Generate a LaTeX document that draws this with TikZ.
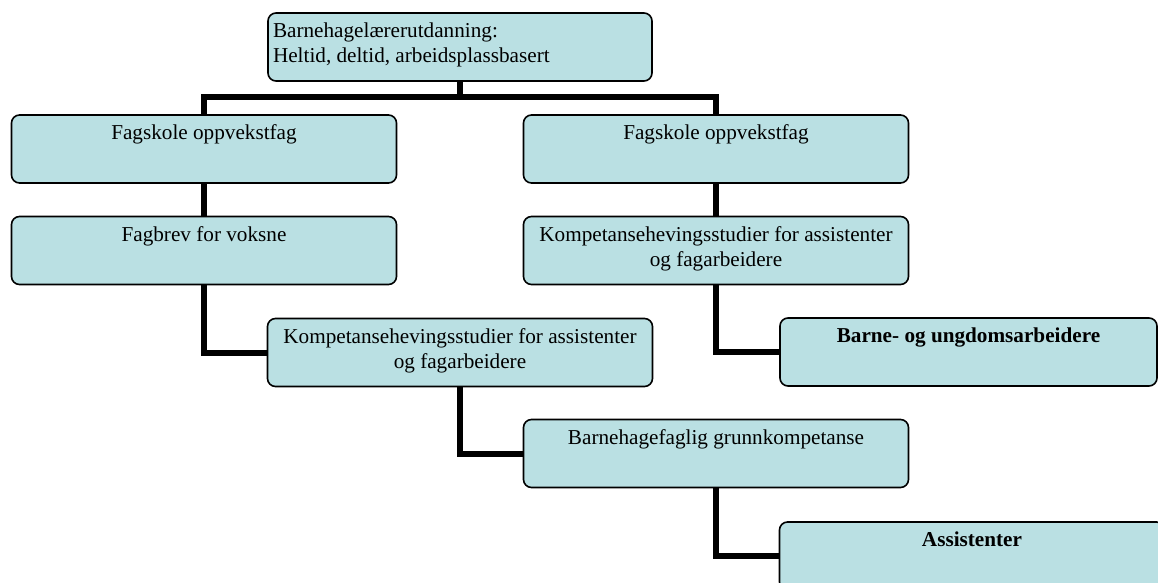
\documentclass[tikz,border=0pt]{standalone}
\usepackage{fontspec}
\setmainfont{Liberation Serif}
\definecolor{boxfill}{RGB}{186,224,227}

\begin{document}
\begin{tikzpicture}[x=0.5pt, y=-0.5pt,
        box/.style={draw, line width=0.8pt, rounded corners=4pt, fill=boxfill, inner sep=0pt,
            font=\fontsize{10.6}{12.5}\selectfont,
            execute at begin node={\begin{minipage}[c][34pt][t]{#1}\centering\rule{0pt}{12.3pt}},
            execute at end node={\end{minipage}}},
        box/.default=192.5pt,
        topbox/.style={box=192pt, execute at begin node={\raggedright\leftskip=2.5pt\relax}},
        link/.style={line width=3pt}]
        \useasboundingbox (0, 0) rectangle (1158, 583);
        \clip (0, 0) rectangle (1158, 583);

        %nodes
        \node[topbox] (top) at (460, 47) {Barnehagelærerutdanning:\\Heltid, deltid, arbeidsplassbasert};
        \node[box] (l1) at (204, 149) {Fagskole oppvekstfag};
        \node[box] (r1) at (716, 149) {Fagskole oppvekstfag};
        \node[box] (l2) at (204, 250.5) {Fagbrev for voksne};
        \node[box] (r2) at (716, 250.5) {Kompetansehevingsstudier for assistenter\\og fagarbeidere};
        \node[box] (l3) at (460, 352.5) {Kompetansehevingsstudier for assistenter\\og fagarbeidere};
        \node[box=188.5pt] (r3) at (968.5, 352) {\textbf{Barne- og ungdomsarbeidere}};
        \node[box] (l4) at (716, 453.5) {Barnehagefaglig grunnkompetanse};
        \node[box] (l5) at (972, 556) {\textbf{Assistenter}};

        %edges
        \draw[link] (top.south) -- ++(0, 15) coordinate (bar);
        \draw[link] (l1.north) |- (bar) -| (r1.north);
        \draw[link] (l1) -- (l2);
        \draw[link] (r1) -- (r2);
        \draw[link] (l2.south) |- (l3.west);
        \draw[link] (r2.south) |- (r3.west);
        \draw[link] (l3.south) |- (l4.west);
        \draw[link] (l4.south) |- (l5.west);
\end{tikzpicture}
\end{document}
